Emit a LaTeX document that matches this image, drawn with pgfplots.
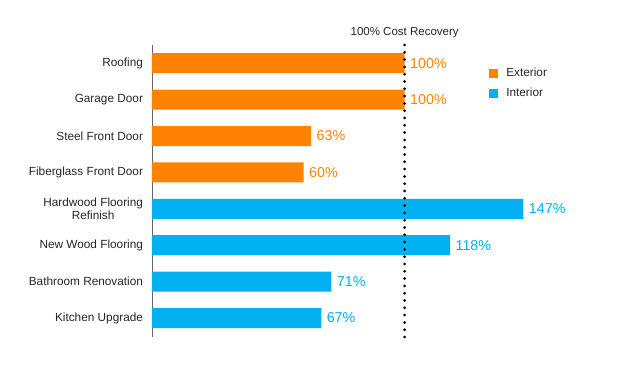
\documentclass[border=0pt]{standalone}
\usepackage{pgfplots}
\pgfplotsset{compat=1.18}
\usepackage{fontspec}
\setmainfont{Liberation Sans}
\definecolor{ext}{HTML}{FF8200}
\definecolor{int}{HTML}{00B0F0}
\definecolor{txt}{HTML}{262626}
\begin{document}
\begin{tikzpicture}[x=1pt,y=1pt]
\useasboundingbox (0,0) rectangle (637,387);
\begin{axis}[
  at={(152pt,50pt)}, anchor=south west,
  width=480pt, height=292pt, scale only axis,
  xmin=0, xmax=190, ymin=-0.52, ymax=7.5,
  axis x line=none,
  axis y line*=left,
  y axis line style={draw=gray!80!black, line width=0.9pt, -},
  ytick={0,...,7},
  yticklabels={Kitchen Upgrade, Bathroom Renovation, New Wood Flooring, {Hardwood Flooring\\Refinish}, Fiberglass Front Door, Steel Front Door, Garage Door, Roofing},
  major tick length=0pt,
  yticklabel style={font=\fontsize{11.8}{13.5}\selectfont, align=center, text=txt, xshift=-5.5pt},
  clip=false,
  legend style={draw=none, fill=none, font=\fontsize{11.8}{13.5}\selectfont, text=txt,
    at={(0.695,0.935)}, anchor=north west, row sep=6pt, legend cell align=left,
    /tikz/every odd column/.append style={column sep=6.5pt}},
  point meta=x,
  nodes near coords={\pgfmathprintnumber[assume math mode=true]{\pgfplotspointmeta}\%},
]
\addplot[xbar, fill=ext, draw=none, bar width=20pt, bar shift=0pt,
  every node near coord/.append style={font=\fontsize{14.3}{16}\selectfont, text=ext, anchor=west, xshift=2pt},
  legend image code/.code={\fill[ext] (0pt,-4.5pt) rectangle (9pt,4.5pt);}]
  coordinates {(100,7) (100,6) (63,5) (60,4)};
\addlegendentry{Exterior}
\addplot[xbar, fill=int, draw=none, bar width=20pt, bar shift=0pt,
  every node near coord/.append style={font=\fontsize{14.3}{16}\selectfont, text=int, anchor=west, xshift=2pt},
  legend image code/.code={\fill[int] (0pt,-4.5pt) rectangle (9pt,4.5pt);}]
  coordinates {(147,3) (118,2) (71,1) (67,0)};
\addlegendentry{Interior}
\addplot[forget plot, black, line width=3pt, line cap=round, dash pattern=on 0pt off 7.3pt, nodes near coords={}]
  coordinates {(100,-0.52) (100,7.6)};
\node[font=\fontsize{11.5}{13.5}\selectfont, text=black!85] at (axis cs:100,7.5) [yshift=12.5pt] {100\% Cost Recovery};
\end{axis}
\end{tikzpicture}
\end{document}
